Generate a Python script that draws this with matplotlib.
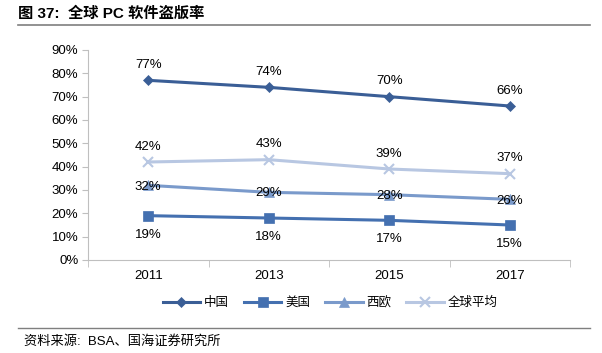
import matplotlib
matplotlib.use("Agg")
import matplotlib.pyplot as plt
from matplotlib.lines import Line2D

plt.rcParams['font.family'] = ['Liberation Sans', 'Noto Sans CJK SC', 'DejaVu Sans']

years = ["2011", "2013", "2015", "2017"]
china = [77, 74, 70, 66]
usa = [19, 18, 17, 15]
w_europe = [32, 29, 28, 26]
world_avg = [42, 43, 39, 37]
yticks = [0, 10, 20, 30, 40, 50, 60, 70, 80, 90]

fig = plt.figure(figsize=(6.02, 3.53), dpi=100)
ax = fig.add_axes([88 / 602, 1 - 260 / 353, 482 / 602, 210 / 353])

x = range(len(years))
series = [
    ("中国", china, "#3A5E96", "D", 5, "above"),
    ("美国", usa, "#4470B0", "s", 7, "below"),
    ("西欧", w_europe, "#7A9ACB", "^", 7, "center"),
    ("全球平均", world_avg, "#B8C7E2", "x", 7, "above"),
]
for name, vals, col, mk, ms, pos in series:
    ax.plot(x, vals, color=col, marker=mk, markersize=ms, linewidth=2.2,
            markeredgewidth=1.5 if mk == "x" else 0.5, label=name)
    for xi, v in zip(x, vals):
        if pos == "above":
            ax.text(xi, v + 4, f"{v}%", ha="center", va="bottom", fontsize=9.5)
        elif pos == "below":
            ax.text(xi, v - 5.5, f"{v}%", ha="center", va="top", fontsize=9.5)
        else:
            ax.text(xi, v - 0.5, f"{v}%", ha="center", va="center", fontsize=9.5)

ax.set_xlim(-0.5, len(years) - 0.5)
ax.set_ylim(0, 90)
ax.set_yticks(yticks)
ax.set_yticklabels([f"{t}%" for t in yticks], fontsize=9.5)
ax.set_xticks(list(x))
ax.set_xticklabels(years, fontsize=9.5)
ax.set_xticks([i - 0.5 for i in range(len(years) + 1)], minor=True)
ax.tick_params(axis="x", which="major", length=0, pad=7)
ax.tick_params(axis="x", which="minor", length=5, color="#BFBFBF", direction="out")
ax.tick_params(axis="y", length=4, color="#BFBFBF", direction="out", pad=3)
for s in ["top", "right"]:
    ax.spines[s].set_visible(False)
for s in ["left", "bottom"]:
    ax.spines[s].set_color("#BFBFBF")

ax.legend(loc="center", bbox_to_anchor=(330 / 602, 1 - 303 / 353),
          bbox_transform=fig.transFigure, ncol=4, frameon=False, fontsize=9,
          handlelength=3, columnspacing=1.2, handletextpad=0.3)

fig.text(18 / 602, 1 - 14 / 353, "图 37:  全球 PC 软件盗版率", fontsize=11,
         fontweight="bold", va="center", ha="left")
fig.add_artist(Line2D([18 / 602, 590 / 602], [1 - 25 / 353, 1 - 25 / 353],
                      color="#7F7F7F", linewidth=1.2))
fig.add_artist(Line2D([18 / 602, 590 / 602], [1 - 328 / 353, 1 - 328 / 353],
                      color="#7F7F7F", linewidth=1.0))
fig.text(24 / 602, 1 - 341 / 353, "资料来源:  BSA、国海证券研究所", fontsize=9.5,
         va="center", ha="left")

fig.savefig("out.png", dpi=100)
